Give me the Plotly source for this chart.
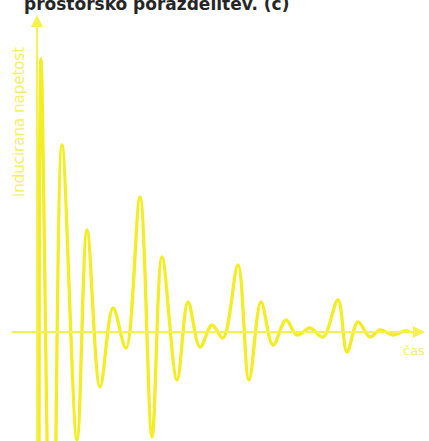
import plotly.graph_objects as go

# Data (arbitrary units: time from the y-axis, voltage from the time axis)
time = [2, 4, 15, 25, 40, 50, 63, 76, 89, 103, 115, 125, 140, 151, 163,
        175, 186, 201, 212, 224, 236, 249, 260, 273, 286, 301, 310, 321,
        333, 343, 356, 368, 373]
voltage = [-260, 273, -330, 187, -108, 102, -55, 24, -16, 135, -105, 75,
           -48, 30, -15, 7, -6, 67, -48, 30, -13, 12, -3, 4, -5, 32, -20,
           10, -5, 2, -3, 1, 0]

title_text = "prostorsko porazdelitev. (c)"
y_label = "inducirana napetost"
x_label = "čas"

YELLOW = "#f2ed25"
AXIS_YELLOW = "#f5f153"
LABEL_YELLOW = "#f3ef6a"

fig = go.Figure()
fig.add_trace(go.Scatter(
    x=time, y=voltage, mode="lines",
    line=dict(color=YELLOW, width=3.3, shape="spline", smoothing=1.0),
    hoverinfo="skip", showlegend=False,
))

# axes with arrows
fig.add_annotation(x=388, y=0, ax=-27, ay=0, xref="x", yref="y",
                   axref="x", ayref="y", showarrow=True, arrowhead=2,
                   arrowsize=1.2, arrowwidth=2, arrowcolor=AXIS_YELLOW, text="")
fig.add_annotation(x=0, y=317, ax=0, ay=-115, xref="x", yref="y",
                   axref="x", ayref="y", showarrow=True, arrowhead=2,
                   arrowsize=1.2, arrowwidth=2, arrowcolor=AXIS_YELLOW, text="")

fig.add_annotation(x=-18, y=210, xref="x", yref="y", text=y_label,
                   textangle=-90, showarrow=False,
                   font=dict(family="DejaVu Sans", size=15, color=LABEL_YELLOW))
fig.add_annotation(x=377, y=-18, xref="x", yref="y", text=x_label,
                   showarrow=False, xanchor="center", yanchor="middle",
                   font=dict(family="DejaVu Sans", size=13, color=LABEL_YELLOW))
fig.add_annotation(x=-15, y=315.5, xref="x", yref="y", text="<b>" + title_text + "</b>",
                   showarrow=False, xanchor="left", yanchor="bottom",
                   font=dict(family="DejaVu Sans", size=17, color="#262626"))

fig.update_layout(
    width=429, height=441,
    margin=dict(l=0, r=0, t=0, b=0),
    paper_bgcolor="white", plot_bgcolor="white",
    xaxis=dict(range=[-37, 392], visible=False, fixedrange=True),
    yaxis=dict(range=[-109, 332], visible=False, fixedrange=True),
)

fig.write_html("out.html", config={"displayModeBar": False},
               post_script="document.body.style.margin='0';")
